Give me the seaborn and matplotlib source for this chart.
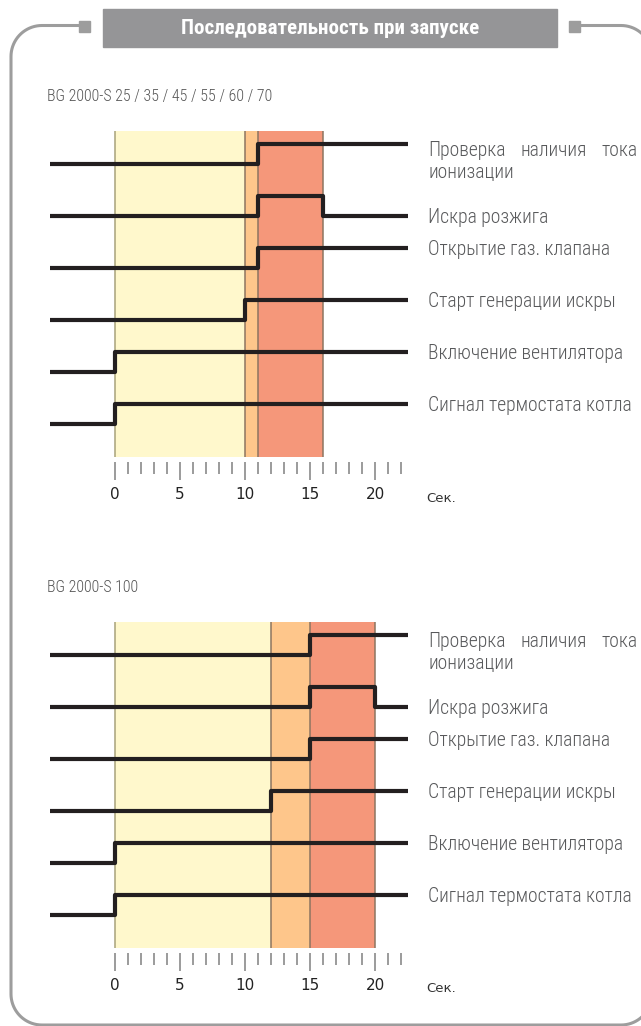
import matplotlib
matplotlib.use("Agg")
import matplotlib.pyplot as plt
from matplotlib.path import Path
from matplotlib.patches import PathPatch, Rectangle
from matplotlib import font_manager
import numpy as np
import seaborn as sns
import pandas as pd

# signal names, bottom row first
signals = ["Сигнал термостата котла", "Включение вентилятора", "Старт генерации искры",
           "Открытие газ. клапана", "Искра розжига", "Проверка наличия тока ионизации"]

# model 1: BG 2000-S 25..70  (times in seconds, state 0/1 from that time on)
m1_title = "BG 2000-S 25 / 35 / 45 / 55 / 60 / 70"
m1_times = [[-5, 0, 22.5], [-5, 0, 22.5], [-5, 10, 22.5], [-5, 11, 22.5], [-5, 11, 16, 22.5], [-5, 11, 22.5]]
m1_states = [[0, 1, 1], [0, 1, 1], [0, 1, 1], [0, 1, 1], [0, 1, 0, 0], [0, 1, 1]]
m1_bands = [0, 10, 11, 16]

# model 2: BG 2000-S 100
m2_title = "BG 2000-S 100"
m2_times = [[-5, 0, 22.5], [-5, 0, 22.5], [-5, 12, 22.5], [-5, 15, 22.5], [-5, 15, 20, 22.5], [-5, 15, 22.5]]
m2_states = [[0, 1, 1], [0, 1, 1], [0, 1, 1], [0, 1, 1], [0, 1, 0, 0], [0, 1, 1]]
m2_bands = [0, 12, 15, 20]

major_ticks = [0, 5, 10, 15, 20]
minor_ticks = list(range(0, 23))

sns.set_theme(style="white")
plt.rcParams["font.family"] = ["DejaVu Sans"]

# pick the narrowest family that is installed
ttf = font_manager.fontManager.ttflist
names = {f.name for f in ttf}
if "Roboto Condensed" in names:
    fkw = {"family": "Roboto Condensed"}
elif "Liberation Sans Narrow" in names:
    fkw = {"family": "Liberation Sans Narrow"}
elif any(f.name == "DejaVu Sans" and "Condensed" in f.fname for f in ttf):
    fkw = {"family": "DejaVu Sans", "stretch": "condensed"}
else:
    fkw = {"family": "Roboto"}

W, H = 641, 1026
fig = plt.figure(figsize=(W / 100, H / 100), dpi=100)
renderer = fig.canvas.get_renderer()

def text_w(text, fs, weight="normal"):
    t = fig.text(0, 0, text, fontsize=fs, fontweight=weight, **fkw)
    w = t.get_window_extent(renderer=renderer).width
    t.remove()
    return w

def fit_size(text, width_px, weight="normal"):
    return 12 * width_px / text_w(text, 12, weight)

lab_w = "light"
lab_fs = fit_size("Включение вентилятора", 195, lab_w)
head_fs = fit_size("Последовательность при запуске", 298, "bold")
ttl_fs = fit_size(m1_title, 225, lab_w)

def rect(x0, y0, x1, y1):
    return [x0 / W, 1 - y1 / H, (x1 - x0) / W, (y1 - y0) / H]

# overlay in pixel coordinates for frame and header
ax0 = fig.add_axes([0, 0, 1, 1])
ax0.set_xlim(0, W)
ax0.set_ylim(H, 0)
ax0.axis("off")

frame_col = "#9d9d9d"
r = 31
yt, yb, xl, xr = 25.5, 1025, 11, 652

def arc(cx, cy, a0, a1):
    a = np.radians(np.linspace(a0, a1, 20))
    return list(zip(cx + r * np.cos(a), cy + r * np.sin(a)))

pts = [(569, yt)] + arc(xr - r, yt + r, -90, 0) + arc(xr - r, yb - r, 0, 90) \
    + arc(xl + r, yb - r, 90, 180) + arc(xl + r, yt + r, 180, 270) + [(80, yt)]
ax0.add_patch(PathPatch(Path(pts), fill=False, edgecolor=frame_col, lw=2.2))
ax0.add_patch(Rectangle((79, 21), 11, 11, color=frame_col))
ax0.add_patch(Rectangle((569, 21), 11, 11, color=frame_col))
ax0.add_patch(Rectangle((103, 9), 454, 38, color="#959597"))
ax0.text(330, 28.5, "Последовательность при запуске", color="white", fontsize=head_fs,
         fontweight="bold", ha="center", va="center", **fkw)

band_cols = ["#fff8cc", "#fec68b", "#f5977a"]
edge_cols = ["#a8a27a", "#8d7560", "#8d7560", "#8d7560"]
step_h = 20 / 52
px_per_s = 13.0
lab_col = "#58595b"

def draw_chart(top_px, title, times, states, bands):
    ax0.text(47, top_px - 35, title, color="#555555", fontsize=ttl_fs, fontweight=lab_w,
             va="center", **fkw)
    ax = fig.add_axes(rect(50, top_px, 407.5, top_px + 326))
    ax.set_facecolor("none")
    for i in range(3):
        ax.axvspan(bands[i], bands[i + 1], color=band_cols[i], lw=0, zorder=0)
    for b, c in zip(bands, edge_cols):
        ax.axvline(b, color=c, lw=1.1, zorder=1)
    for i, (t, s) in enumerate(zip(times, states)):
        df = pd.DataFrame({"t": t, "y": [i + v * step_h for v in s]})
        sns.lineplot(data=df, x="t", y="y", ax=ax, drawstyle="steps-post", color="#231f20",
                     lw=3, estimator=None, zorder=3)
        end_y = i + s[-1] * step_h
        kw = dict(color=lab_col, fontsize=lab_fs, fontweight=lab_w, clip_on=False, **fkw)
        x0 = 24.1
        if i == 5:
            # first line is justified between x0 and the right edge
            words = signals[i].split()
            x1 = x0 + 209 / px_per_s
            ws = [text_w(w, lab_fs, lab_w) / px_per_s for w in words[:3]]
            gap = (x1 - x0 - sum(ws)) / 2
            ax.text(x0, end_y + 0.05, words[0], va="top", ha="left", **kw)
            ax.text(x0 + ws[0] + gap, end_y + 0.05, words[1], va="top", ha="left", **kw)
            ax.text(x1, end_y + 0.05, words[2], va="top", ha="right", **kw)
            ax.text(x0, end_y - 0.34, words[3], va="top", ha="left", **kw)
        else:
            ax.text(x0, end_y - 0.03, signals[i], va="center", ha="left", **kw)
    ax.set_xlim(-5, 22.5)
    ax.set_ylim(-0.635, 5.635)
    ax.set_xlabel("")
    ax.set_ylabel("")
    ax.set_yticks([])
    for sp in ["top", "left", "right"]:
        ax.spines[sp].set_visible(False)
    ax.spines["bottom"].set_position(("outward", 3.5))
    ax.spines["bottom"].set_visible(False)
    ax.set_xticks(major_ticks)
    ax.set_xticks(minor_ticks, minor=True)
    ax.tick_params(axis="x", which="major", direction="out", length=13, width=1.1,
                   color="#808080", labelsize=11, labelcolor="#222222", pad=5, bottom=True)
    ax.tick_params(axis="x", which="minor", direction="out", length=8.5, width=1.1,
                   color="#808080", bottom=True)
    ax0.text(441, top_px + 367, "Сек.", color="#333333", fontsize=9.5, ha="center", va="center")
    return ax

draw_chart(131, m1_title, m1_times, m1_states, m1_bands)
draw_chart(622, m2_title, m2_times, m2_states, m2_bands)

fig.savefig("out.png", dpi=100)
